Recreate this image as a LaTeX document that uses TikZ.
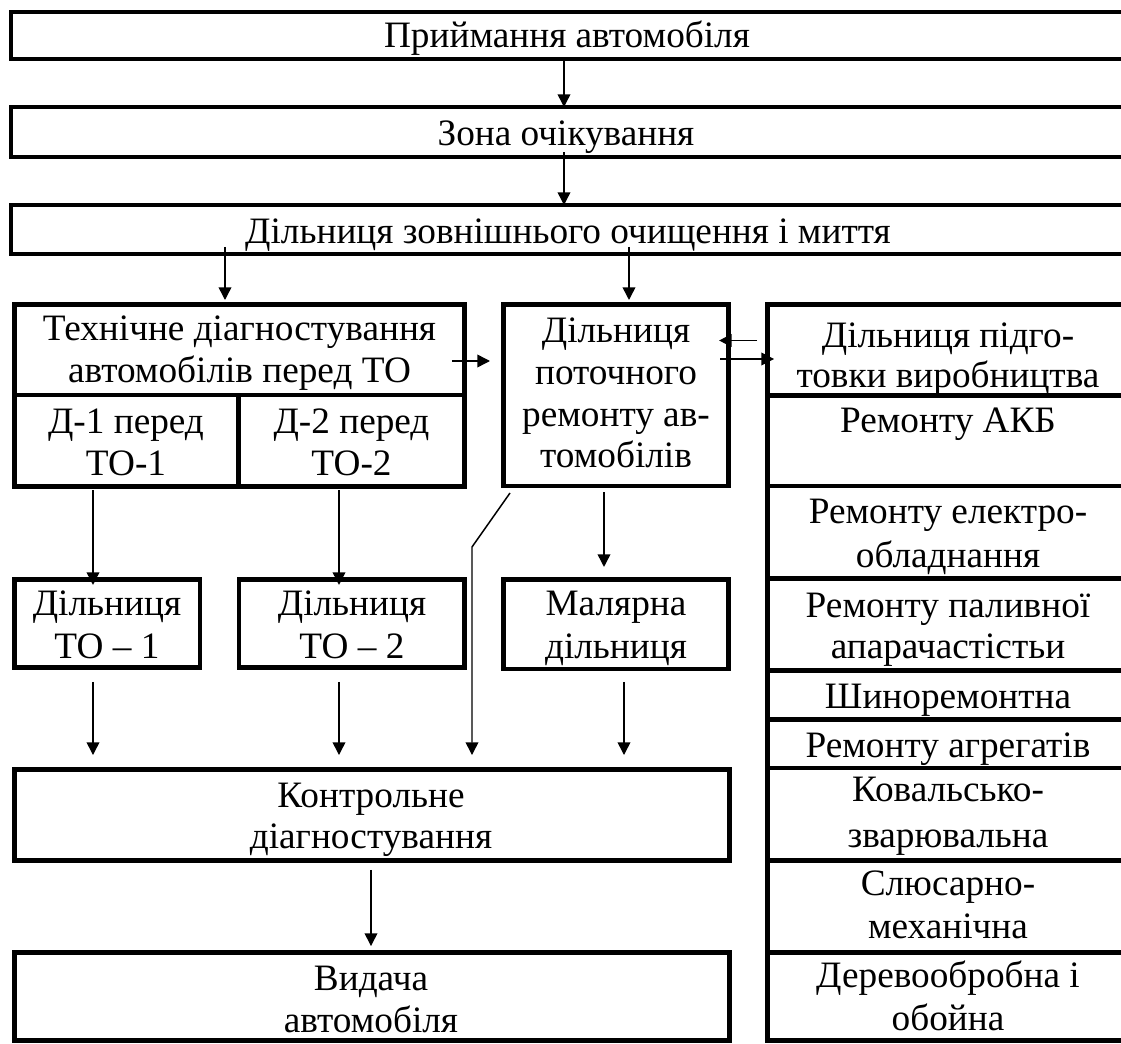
\documentclass[tikz,border=0pt]{standalone}
\usepackage{fontspec}
\setmainfont{Liberation Serif}
\usetikzlibrary{arrows.meta,fit}
\newcommand\fr{\rule{0pt}{21pt}}
\begin{document}
\begin{tikzpicture}[x=0.025cm,y=-0.025cm,
  box/.style={draw, line width=3.55pt, inner sep=0pt, outer sep=0pt, rectangle},
  tx/.style={anchor=north, align=center, inner sep=0pt, font=\fontsize{26.5pt}{30.1pt}\selectfont},
  ls/.style={font=\fontsize{26.5pt}{#1}\selectfont},
  arr/.style={line width=1.06pt, -{Triangle[length=9pt,width=9pt]}},
  ln/.style={line width=1.06pt}]
\clip (0,0) rectangle (1121,1044);
\fill[white] (0,0) rectangle (1121,1044);

% main flow boxes
\node[box, fit={(11,12) (1130,59)}] (r1) {};
\node[box, fit={(11,107) (1130,157)}] (r2) {};
\node[box, fit={(11,205) (1130,254)}] (r3) {};
\node[box, fit={(14.5,304.5) (464.5,395)}] (tech) {};
\node[box, fit={(14.5,395) (238.5,486.5)}] (d1) {};
\node[box, fit={(238.5,395) (464.5,486.5)}] (d2) {};
\node[box, fit={(14.5,579.5) (200,667.5)}] (to1) {};
\node[box, fit={(239,579.5) (464.5,667.5)}] (to2) {};
\node[box, fit={(503.5,304.5) (728.5,486)}] (pot) {};
\node[box, fit={(503.5,579.5) (728.5,669)}] (mal) {};
\node[box, fit={(14.5,769.5) (729,860.5)}] (kon) {};
\node[box, fit={(14.5,952.5) (729,1040.5)}] (vyd) {};
% right column
\node[box, fit={(767,304.5) (1135,395.5)}] (rc1) {};
\node[box, fit={(767,395.5) (1135,486)}] (rc2) {};
\node[box, fit={(767,486) (1135,578.5)}] (rc3) {};
\node[box, fit={(767,578.5) (1135,670.5)}] (rc4) {};
\node[box, fit={(767,670.5) (1135,719.5)}] (rc5) {};
\node[box, fit={(767,719.5) (1135,768)}] (rc6) {};
\node[box, fit={(767,768) (1135,860.5)}] (rc7) {};
\node[box, fit={(767,860.5) (1135,952.5)}] (rc8) {};
\node[box, fit={(767,952.5) (1135,1040.5)}] (rc9) {};

% texts
\node[tx] (t1) at (567,17.4) {\fr Приймання автомобіля};
\node[tx] (t2) at (566,115.4) {\fr Зона очікування};
\node[tx] (t3) at (568,213.4) {\fr Дільниця зовнішнього очищення і миття};
\node[tx, ls=29.8pt] (ttech) at (239.5,310.4) {\fr Технічне діагностування\\автомобілів перед ТО};
\node[tx, ls=29.8pt] (td1) at (126,403.4) {\fr Д-1 перед\\ТО-1};
\node[tx, ls=29.8pt] (td2) at (351.5,403.4) {\fr Д-2 перед\\ТО-2};
\node[tx, ls=30.5pt] (tto1) at (107,585.4) {\fr Дільниця\\ТО – 1};
\node[tx, ls=30.5pt] (tto2) at (352,585.4) {\fr Дільниця\\ТО – 2};
\node[tx, ls=29.8pt] (tpot) at (616,312.4) {\fr Дільниця\\поточного\\ремонту ав-\\томобілів};
\node[tx, ls=30.5pt] (tmal) at (616,585.4) {\fr Малярна\\дільниця};
\node[tx, ls=29.1pt] (tkon) at (371,777.4) {\fr Контрольне\\діагностування};
\node[tx, ls=29.8pt] (tvyd) at (371,960.4) {\fr Видача\\автомобіля};
\node[tx, ls=28.3pt] (trc1) at (948,317.4) {\fr Дільниця підго-\\товки виробництва};
\node[tx] (trc2) at (948,402.4) {\fr Ремонту АКБ};
\node[tx, ls=31.2pt] (trc3) at (948,493.4) {\fr Ремонту електро-\\обладнання};
\node[tx, ls=29.1pt] (trc4) at (948,587.4) {\fr Ремонту паливної\\апарачастістьи};
\node[tx] (trc5) at (948,678.4) {\fr Шиноремонтна};
\node[tx] (trc6) at (948,727.4) {\fr Ремонту агрегатів};
\node[tx, ls=32.6pt] (trc7) at (948,771.4) {\fr Ковальсько-\\зварювальна};
\node[tx, ls=30.5pt] (trc8) at (948,865.4) {\fr Слюсарно-\\механічна};
\node[tx, ls=30.5pt] (trc9) at (948,957.4) {\fr Деревообробна і\\обойна};

% reference positions for connectors
\coordinate (xa) at (564,0);
\coordinate (xb) at (225,0);
\coordinate (xc) at (629,0);
\coordinate (xd) at (93,0);
\coordinate (xe) at (339,0);
\coordinate (xf) at (604,0);
\coordinate (xg) at (624,0);
\coordinate (xh) at (371,0);
\coordinate (ya) at (0,361);
\coordinate (yb) at (0,340.5);
\coordinate (yc) at (0,359);
\coordinate (bend) at (472,547);

% connectors
\draw[arr] (r1.south -| xa) -- (r2.north -| xa);
\draw[arr, shorten <=-3.5pt] (r2.south -| xa) -- (r3.north -| xa);
\draw[arr, shorten <=-5pt, shorten >=3.2pt] (r3.south -| xb) -- (tech.north -| xb);
\draw[arr, shorten <=-5pt, shorten >=3.2pt] (r3.south -| xc) -- (pot.north -| xc);
\draw[arr, shorten <=-8.9pt, shorten >=9.6pt] (tech.east |- ya) -- (pot.west |- ya);
\draw[arr, shorten <=7pt, shorten >=-6.7pt] (rc1.west |- yb) -- (pot.east |- yb);
\draw[arr, shorten <=-6pt, shorten >=-5pt] (pot.east |- yc) -- (rc1.west |- yc);
\draw[arr, shorten <=2.5pt, shorten >=-3.9pt] (d1.south -| xd) -- (to1.north -| xd);
\draw[arr, shorten <=2.5pt, shorten >=-3.9pt] (d2.south -| xe) -- (to2.north -| xe);
\draw[arr, shorten <=4.3pt, shorten >=8.9pt] (pot.south -| xf) -- (mal.north -| xf);
\draw[arr, shorten <=10.3pt, shorten >=10.3pt] (to1.south -| xd) -- (kon.north -| xd);
\draw[arr, shorten <=10.3pt, shorten >=10.3pt] (to2.south -| xe) -- (kon.north -| xe);
\draw[arr, shorten <=9.2pt, shorten >=10.3pt] (mal.south -| xg) -- (kon.north -| xg);
\draw[arr, shorten >=10.3pt] ([shift={(6.5,7)}]pot.south west) -- (bend) -- (kon.north -| bend);
\draw[arr, shorten <=6.7pt, shorten >=4.6pt] (kon.south -| xh) -- (vyd.north -| xh);
\end{tikzpicture}
\end{document}
